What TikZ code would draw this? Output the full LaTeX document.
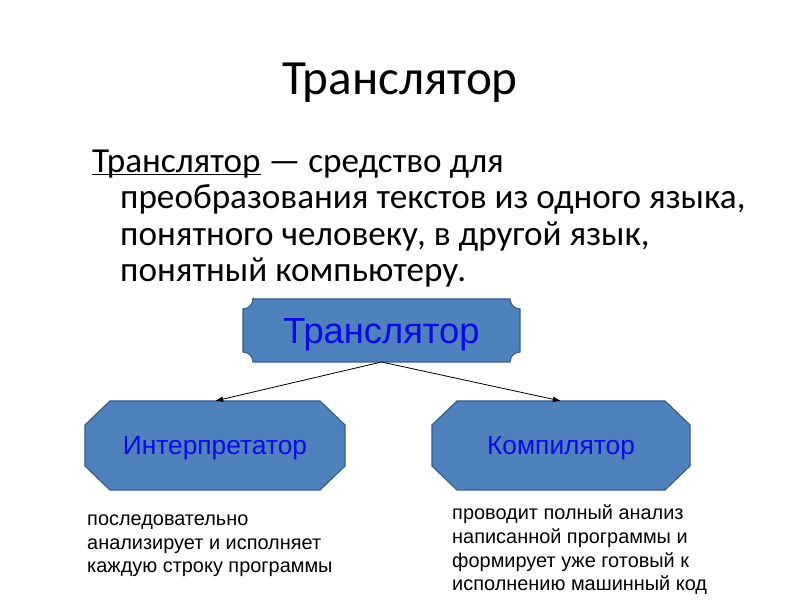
\documentclass[tikz,border=0pt]{standalone}
\usepackage{fontspec}
\setmainfont{Carlito}
\newfontfamily\arialfont{Liberation Sans}
\usetikzlibrary{calc, positioning, arrows.meta, backgrounds}

\definecolor{boxfill}{HTML}{4F81BD}
\definecolor{boxline}{HTML}{385D8A}
\definecolor{boxtext}{HTML}{0A0AE6}

% frames drawn around the named nodes
\newcommand{\plaqueframe}[1]{%
  \draw[boxshape] ($(#1.north west)+(10,0)$) -- ($(#1.north east)+(-10,0)$)
    arc[start angle=180, end angle=270, radius=0.3cm]
    -- ($(#1.south east)+(0,10)$)
    arc[start angle=90, end angle=180, radius=0.3cm]
    -- ($(#1.south west)+(10,0)$)
    arc[start angle=0, end angle=90, radius=0.3cm]
    -- ($(#1.north west)+(0,-10)$)
    arc[start angle=270, end angle=360, radius=0.3cm] -- cycle;}
\newcommand{\octframe}[1]{%
  \draw[boxshape] ($(#1.north west)+(25,0)$) -- ($(#1.north east)+(-25,0)$)
    -- ($(#1.north east)+(0,-24)$) -- ($(#1.south east)+(0,24)$)
    -- ($(#1.south east)+(-25,0)$) -- ($(#1.south west)+(25,0)$)
    -- ($(#1.south west)+(0,24)$) -- ($(#1.north west)+(0,-24)$) -- cycle;}

\begin{document}
\begin{tikzpicture}[x=0.03cm, y=0.03cm, >={Latex[length=7pt, width=5pt]},
    boxshape/.style={fill=boxfill, draw=boxline, line width=1pt},
    boxlabel/.style={inner sep=0pt, outer sep=0pt, text=boxtext, text depth=0pt},
    bigfont/.style={font=\arialfont\fontsize{31}{36}\selectfont, text height=22.3pt},
    midfont/.style={font=\arialfont\fontsize{22.5}{26}\selectfont, text height=16.1pt},
    note/.style={inner sep=0pt, align=left, font=\arialfont\fontsize{17}{20.4}\selectfont}]
    \useasboundingbox (0,0) rectangle (800,600);

    \node[inner sep=0pt, anchor=base, font=\fontsize{42}{48}\selectfont] (title) at (400,505) {Транслятор};
    % base of a multi-line node = last line
    \node[inner sep=0pt, anchor=base west, align=left, font=\fontsize{30}{31.2}\selectfont] (defn) at (92,318)
        {\underline{\smash{Транслятор}} — средство для\\
         \hspace*{0.84cm}преобразования текстов из одного языка,\\
         \hspace*{0.84cm}понятного человеку, в другой язык,\\
         \hspace*{0.84cm}понятный компьютеру.};

    \node[boxlabel, bigfont, minimum width=8.31cm, minimum height=1.89cm] (trans) at (381.5,269.5) {Транслятор};
    \node[boxlabel, midfont, minimum width=7.8cm, minimum height=2.67cm] (interp) at (215,154.5) {Интерпретатор};
    \node[boxlabel, midfont, minimum width=7.74cm, minimum height=2.67cm] (comp) at (561,154.5) {Компилятор};

    \begin{scope}[on background layer]
        \plaqueframe{trans}
        \octframe{interp}
        \octframe{comp}
    \end{scope}

    \draw[->, line width=0.7pt] (trans.south) -- (interp.north);
    \draw[->, line width=0.7pt] (trans.south) -- (comp.north);

    \node[note, anchor=base west] (interpnote) at (87,27)
        {последовательно\\ анализирует и исполняет\\ каждую строку программы};
    \node[note, anchor=base west] (compnote) at (452,9)
        {проводит полный анализ\\ написанной программы и\\ формирует уже готовый к\\ исполнению машинный код};
\end{tikzpicture}
\end{document}
